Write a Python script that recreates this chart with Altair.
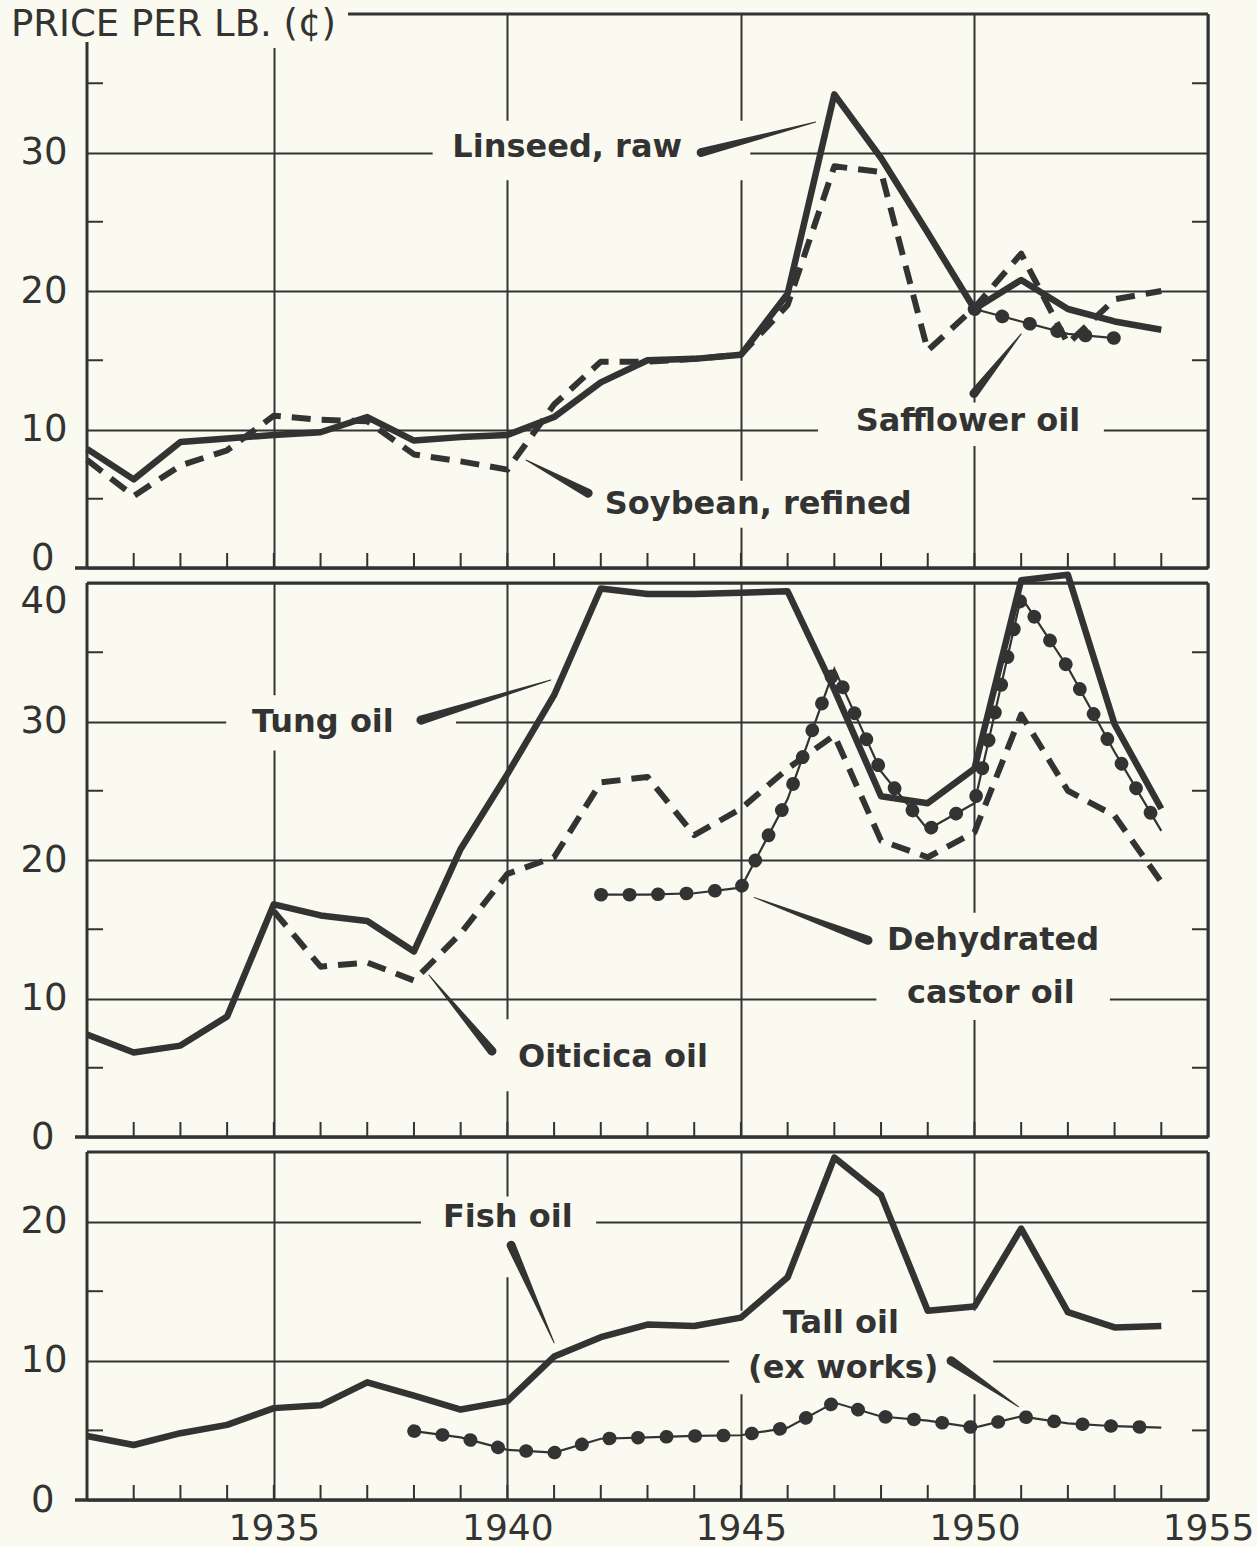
import altair as alt
import pandas as pd

FONT = "DejaVu Sans"
INK = "#333333"
BG = "#fafaf0"

TITLE = "PRICE PER LB. (¢)"

# ---------------- data (cents per lb) ----------------
YEARS = list(range(1931, 1955))
linseed = [8.6, 6.4, 9.1, 9.35, 9.6, 9.8, 10.9, 9.2, 9.45, 9.6, 10.9, 13.4,
           15.0, 15.1, 15.4, 19.8, 34.2, 29.6, 24.2, 18.7, 20.8, 18.7, 17.8, 17.2]
soybean = [7.8, 5.2, 7.4, 8.5, 11.0, 10.7, 10.6, 8.2, 7.7, 7.1, 11.8, 14.9,
           14.9, 15.1, 15.4, 19.0, 29.0, 28.6, 15.7, 18.8, 22.7, 16.2, 19.4, 20.0]
safflower_years = [1950, 1951, 1952, 1953]
safflower = [18.7, 17.8, 16.9, 16.6]

tung = [7.4, 6.1, 6.6, 8.7, 16.8, 16.0, 15.6, 13.4, 20.8, 26.2, 31.9, 39.6,
        39.2, 39.2, 39.3, 39.4, 32.3, 24.6, 24.1, 26.6, 40.2, 40.6, 29.8, 23.7]
oiticica_years = list(range(1935, 1955))
oiticica = [16.3, 12.3, 12.6, 11.3, 14.7, 19.0, 20.2, 25.6, 26.0, 21.8,
            23.7, 26.6, 29.0, 21.4, 20.2, 22.0, 30.5, 25.0, 23.2, 18.4]
castor_years = list(range(1942, 1955))
castor = [17.5, 17.5, 17.6, 18.0, 24.4, 33.8, 26.4, 22.2, 24.1, 39.0, 33.9, 27.8, 22.1]

fish = [4.6, 3.95, 4.8, 5.4, 6.6, 6.8, 8.45, 7.5, 6.5, 7.1, 10.3, 11.7,
        12.6, 12.5, 13.1, 16.0, 24.6, 21.9, 13.6, 13.9, 19.5, 13.5, 12.4, 12.5]
tall_years = list(range(1938, 1955))
tall_oil = [4.95, 4.5, 3.6, 3.4, 4.4, 4.5, 4.6, 4.65, 5.2, 7.0, 6.0, 5.7,
            5.2, 6.0, 5.5, 5.3, 5.2]

X_DOMAIN = [1931, 1955]
X_LABEL_YEARS = [1935, 1940, 1945, 1950, 1955]
X_TICK_YEARS = list(range(1932, 1955))

# annotations: (text, year, value)
P1_LABELS = [("Linseed, raw", 1941.28, 30.4), ("Safflower oil", 1949.86, 10.6),
             ("Soybean, refined", 1945.37, 4.6)]
P2_LABELS = [("Tung oil", 1936.05, 30.0), ("Oiticica oil", 1942.26, 5.8),
             ("Dehydrated", 1950.4, 14.2), ("castor oil", 1950.35, 10.4)]
P3_LABELS = [("Fish oil", 1940.01, 20.3), ("Tall oil", 1947.14, 12.7),
             ("(ex works)", 1947.19, 9.45)]

# pointer wedges: (id, thick-end year, value, thin-end year, value)
P1_WEDGES = [("lin", 1944.15, 30.0, 1946.6, 32.2), ("saf", 1949.99, 12.6, 1951.0, 16.9),
             ("soy", 1941.73, 5.4, 1940.4, 7.8)]
P2_WEDGES = [("tung", 1938.15, 30.1, 1940.93, 33.0), ("oit", 1939.67, 6.2, 1938.32, 11.7),
             ("cas", 1947.72, 14.2, 1945.28, 17.3)]
P3_WEDGES = [("fish", 1940.08, 18.3, 1941.0, 11.3), ("tall", 1949.5, 10.0, 1950.94, 6.7)]

# paper-coloured gaps that interrupt grid lines behind the lettering: (x1, x2, y1, y2)
P1_GAPS = [(1930.6, 1936.6, 37.55, 40.0), (1938.4, 1945.2, 28.0, 32.3),
           (1946.65, 1952.77, 8.8, 11.95), (1941.8, 1948.96, 2.9, 6.3)]
P2_GAPS = [(1933.98, 1938.9, 27.9, 31.9), (1939.86, 1944.68, 3.3, 8.5),
           (1947.9, 1952.9, 8.45, 16.2)]
P3_GAPS = [(1938.15, 1941.9, 16.0, 21.8), (1944.75, 1950.4, 7.6, 13.6)]

W = 1121


def df_series(years, values):
    return pd.DataFrame({"yr": years, "v": values})


def build_panel(H, ydom, ylabels, yticks, show_x, series, labels, wedges, gaps,
                with_title=False, baseline40=False, raise_zero=False):
    xaxis = alt.Axis(values=X_LABEL_YEARS, format="d", grid=True, gridColor=INK,
                     gridWidth=2, gridOpacity=1, domain=False, ticks=False, tickSize=0,
                     labels=show_x, labelFont=FONT, labelFontSize=36, labelColor=INK,
                     labelPadding=11, labelFlush=False, title=None)
    yaxis_kw = dict(values=ylabels, format="d", grid=True, gridColor=INK, gridWidth=2,
                    gridOpacity=1, domain=False, ticks=False, tickSize=0, labelFont=FONT,
                    labelFontSize=37, labelColor=INK,
                    labelPadding={"condition": {"test": "datum.value == 0", "value": 33},
                                  "value": 20},
                    labelFlush=False, title=None)
    if baseline40:
        yaxis_kw["labelBaseline"] = {"condition": {"test": "datum.value == 40", "value": "top"},
                                     "value": "middle"}
    if raise_zero:
        yaxis_kw["labelOffset"] = {"condition": {"test": "datum.value == 0", "value": -10},
                                   "value": 0}
    yaxis = alt.Axis(**yaxis_kw)
    xs = alt.Scale(domain=X_DOMAIN, nice=False, zero=False)
    ys = alt.Scale(domain=ydom, nice=False, zero=False)

    def X(f):
        return alt.X(f, scale=xs, axis=xaxis)

    def Y(f):
        return alt.Y(f, scale=ys, axis=yaxis)

    layers = []
    # gaps behind lettering
    gdf = pd.DataFrame(gaps, columns=["x1", "x2", "y1", "y2"])
    layers.append(alt.Chart(gdf).mark_rect(color=BG, strokeWidth=0).encode(
        x=X("x1:Q"), x2="x2:Q", y=Y("y1:Q"), y2="y2:Q"))
    # frame
    one = pd.DataFrame({"k": [0]})
    left_top = 28 if with_title else 0
    top_left = 261 if with_title else 0
    layers.append(alt.Chart(one).mark_rule(color=INK, strokeWidth=3).encode(
        x=alt.value(0), y=alt.value(left_top), y2=alt.value(H)))
    layers.append(alt.Chart(one).mark_rule(color=INK, strokeWidth=3).encode(
        x=alt.value(W), y=alt.value(0), y2=alt.value(H)))
    layers.append(alt.Chart(one).mark_rule(color=INK, strokeWidth=3).encode(
        x=alt.value(top_left), x2=alt.value(W), y=alt.value(0)))
    layers.append(alt.Chart(one).mark_rule(color=INK, strokeWidth=3.5).encode(
        x=alt.value(-12), x2=alt.value(W), y=alt.value(H)))
    # ticks
    ydf = pd.DataFrame({"v": yticks})
    layers.append(alt.Chart(ydf).mark_rule(color=INK, strokeWidth=2).encode(
        y=Y("v:Q"), x=alt.value(0), x2=alt.value(16)))
    layers.append(alt.Chart(ydf).mark_rule(color=INK, strokeWidth=2).encode(
        y=Y("v:Q"), x=alt.value(W - 16), x2=alt.value(W)))
    xdf = pd.DataFrame({"yr": X_TICK_YEARS})
    layers.append(alt.Chart(xdf).mark_rule(color=INK, strokeWidth=2).encode(
        x=X("yr:Q"), y=alt.value(H - 15), y2=alt.value(H)))
    # series
    for df, style in series:
        if style == "solid":
            layers.append(alt.Chart(df).mark_line(color=INK, strokeWidth=6.5,
                                                  strokeJoin="round").encode(
                x=X("yr:Q"), y=Y("v:Q")))
        elif style == "dashed":
            layers.append(alt.Chart(df).mark_line(color=INK, strokeWidth=6,
                                                  strokeDash=[19, 11],
                                                  strokeJoin="round").encode(
                x=X("yr:Q"), y=Y("v:Q")))
        else:
            layers.append(alt.Chart(df).mark_line(color=INK, strokeWidth=2.2).encode(
                x=X("yr:Q"), y=Y("v:Q")))
            layers.append(alt.Chart(df).mark_line(color=INK, strokeWidth=13.5,
                                                  strokeDash=[0.5, 28],
                                                  strokeCap="round").encode(
                x=X("yr:Q"), y=Y("v:Q")))
    # wedges
    rows = []
    for wid, x1, y1, x2, y2 in wedges:
        rows.append({"id": wid, "yr": x1, "v": y1, "w": 9})
        rows.append({"id": wid, "yr": x2, "v": y2, "w": 1})
    wdf = pd.DataFrame(rows)
    layers.append(alt.Chart(wdf).mark_trail(color=INK).encode(
        x=X("yr:Q"), y=Y("v:Q"), size=alt.Size("w:Q", scale=None), detail="id:N"))
    # labels
    ldf = pd.DataFrame(labels, columns=["t", "yr", "v"])
    layers.append(alt.Chart(ldf).mark_text(font=FONT, fontSize=32, fontWeight="bold",
                                           color=INK, align="center",
                                           baseline="middle").encode(
        x=X("yr:Q"), y=Y("v:Q"), text="t:N"))
    if with_title:
        tdf = pd.DataFrame({"t": [TITLE]})
        layers.append(alt.Chart(tdf).mark_text(font=FONT, fontSize=37, color=INK,
                                               align="left", baseline="middle").encode(
            x=alt.value(-76), y=alt.value(11), text="t:N"))
    return alt.layer(*layers).properties(width=W, height=H)


p1 = build_panel(
    554, [0, 40], [0, 10, 20, 30], [5, 15, 25, 35], False,
    [(df_series(YEARS, soybean), "dashed"), (df_series(YEARS, linseed), "solid"),
     (df_series(safflower_years, safflower), "beaded")],
    P1_LABELS, P1_WEDGES, P1_GAPS, with_title=True, raise_zero=True)

p2 = build_panel(
    554, [0, 40], [0, 10, 20, 30, 40], [5, 15, 25, 35], False,
    [(df_series(oiticica_years, oiticica), "dashed"), (df_series(YEARS, tung), "solid"),
     (df_series(castor_years, castor), "beaded")],
    P2_LABELS, P2_WEDGES, P2_GAPS, baseline40=True)

p3 = build_panel(
    348, [0, 25], [0, 10, 20], [5, 15], True,
    [(df_series(YEARS, fish), "solid"), (df_series(tall_years, tall_oil), "beaded")],
    P3_LABELS, P3_WEDGES, P3_GAPS)

chart = alt.vconcat(p1, p2, p3, spacing=15, bounds="flush").resolve_scale(
    x="independent", y="independent"
).properties(
    padding={"left": 10, "top": 5, "right": 2, "bottom": 0},
    background=BG,
).configure_view(stroke="transparent")

chart.save("out.html", embed_options={"renderer": "svg", "actions": False})
